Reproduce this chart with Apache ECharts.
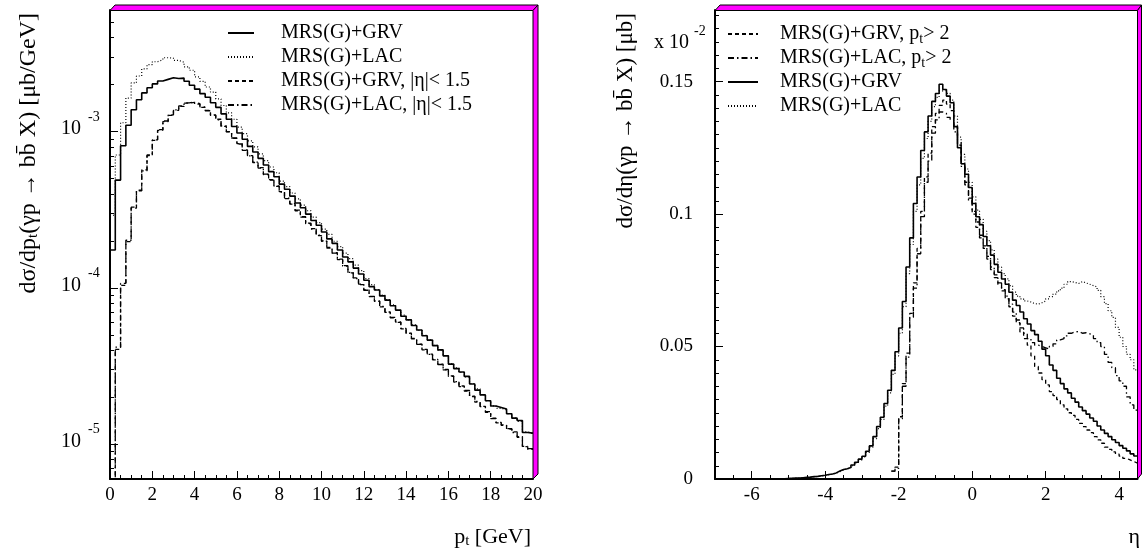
<!DOCTYPE html>
<html><head><meta charset="utf-8">
<script src="https://cdn.jsdelivr.net/npm/echarts@6/dist/echarts.min.js"></script>
<style>html,body{margin:0;padding:0;background:#fff}#c{width:1142px;height:554px}</style>
</head><body><div id="c"></div>
<script>
// ---------------- data : left panel (pt spectra, 0.25 GeV bins from 0) ----------------
const ptBinStart = 0;
const ptBinWidth = 0.25;
const ptGRV = [1.75e-4,4.90e-4,8.13e-4,1.10e-3,1.38e-3,1.60e-3,1.77e-3,1.91e-3,2.02e-3,2.11e-3,
  2.16e-3,2.21e-3,2.19e-3,2.20e-3,2.10e-3,1.98e-3,1.87e-3,1.75e-3,1.66e-3,1.53e-3,
  1.43e-3,1.30e-3,1.20e-3,1.08e-3,9.81e-4,8.95e-4,8.05e-4,7.41e-4,6.75e-4,6.12e-4,
  5.55e-4,5.15e-4,4.62e-4,4.28e-4,3.87e-4,3.50e-4,3.26e-4,2.97e-4,2.70e-4,2.52e-4,
  2.28e-4,2.06e-4,1.93e-4,1.75e-4,1.58e-4,1.47e-4,1.34e-4,1.23e-4,1.12e-4,1.02e-4,
  9.70e-5,8.90e-5,8.36e-5,7.70e-5,7.22e-5,6.60e-5,6.25e-5,5.75e-5,5.38e-5,4.95e-5,
  4.64e-5,4.28e-5,4.02e-5,3.68e-5,3.26e-5,3.05e-5,2.90e-5,2.72e-5,2.43e-5,2.22e-5,
  2.07e-5,1.90e-5,1.76e-5,1.72e-5,1.68e-5,1.57e-5,1.47e-5,1.42e-5,1.19e-5,1.18e-5];
const ptLAC = [2.92e-4,7.09e-4,1.14e-3,1.64e-3,2.05e-3,2.27e-3,2.52e-3,2.68e-3,2.80e-3,2.88e-3,
  2.97e-3,2.95e-3,2.86e-3,2.78e-3,2.60e-3,2.47e-3,2.24e-3,2.10e-3,1.93e-3,1.79e-3,
  1.62e-3,1.47e-3,1.32e-3,1.20e-3,1.07e-3,9.70e-4,8.72e-4,8.00e-4,7.20e-4,6.52e-4,
  5.94e-4,5.46e-4,4.83e-4,4.45e-4,4.05e-4,3.72e-4,3.39e-4,3.12e-4,2.84e-4,2.62e-4,
  2.38e-4,2.20e-4,1.99e-4,1.84e-4,1.67e-4,1.54e-4,1.40e-4,1.29e-4,1.15e-4,1.05e-4,
  9.75e-5,9.00e-5,8.40e-5,7.80e-5,7.20e-5,6.70e-5,6.25e-5,5.80e-5,5.35e-5,4.98e-5,
  4.65e-5,4.30e-5,4.00e-5,3.70e-5,3.28e-5,3.08e-5,2.88e-5,2.70e-5,2.45e-5,2.26e-5,
  2.08e-5,1.90e-5,1.76e-5,1.70e-5,1.66e-5,1.57e-5,1.47e-5,1.40e-5,1.20e-5,1.17e-5];
const ptGRVcut = [3.0e-6,4.05e-5,1.04e-4,1.98e-4,3.24e-4,4.18e-4,5.62e-4,7.02e-4,8.80e-4,1.02e-3,
  1.16e-3,1.27e-3,1.37e-3,1.45e-3,1.52e-3,1.54e-3,1.51e-3,1.43e-3,1.37e-3,1.27e-3,
  1.20e-3,1.08e-3,1.00e-3,9.05e-4,8.38e-4,7.58e-4,7.02e-4,6.35e-4,5.88e-4,5.32e-4,
  4.93e-4,4.46e-4,4.14e-4,3.73e-4,3.46e-4,3.12e-4,2.86e-4,2.58e-4,2.40e-4,2.16e-4,
  2.00e-4,1.80e-4,1.68e-4,1.52e-4,1.39e-4,1.25e-4,1.16e-4,1.05e-4,9.72e-5,8.80e-5,
  8.26e-5,7.58e-5,7.02e-5,6.45e-5,6.06e-5,5.48e-5,5.15e-5,4.73e-5,4.38e-5,4.02e-5,
  3.78e-5,3.47e-5,3.26e-5,2.99e-5,2.74e-5,2.50e-5,2.36e-5,2.19e-5,2.03e-5,1.86e-5,
  1.75e-5,1.60e-5,1.47e-5,1.37e-5,1.33e-5,1.25e-5,1.20e-5,1.11e-5,9.70e-6,9.30e-6];
const ptLACcut = [3.0e-6,4.19e-5,1.07e-4,2.02e-4,3.29e-4,4.22e-4,5.69e-4,7.09e-4,8.85e-4,1.03e-3,
  1.17e-3,1.28e-3,1.38e-3,1.46e-3,1.53e-3,1.55e-3,1.50e-3,1.44e-3,1.36e-3,1.28e-3,
  1.19e-3,1.09e-3,9.96e-4,9.11e-4,8.34e-4,7.63e-4,6.99e-4,6.39e-4,5.85e-4,5.35e-4,
  4.90e-4,4.49e-4,4.11e-4,3.76e-4,3.44e-4,3.15e-4,2.84e-4,2.60e-4,2.38e-4,2.18e-4,
  1.99e-4,1.82e-4,1.67e-4,1.53e-4,1.38e-4,1.26e-4,1.15e-4,1.06e-4,9.67e-5,8.85e-5,
  8.22e-5,7.63e-5,6.99e-5,6.49e-5,6.03e-5,5.51e-5,5.12e-5,4.76e-5,4.36e-5,4.05e-5,
  3.76e-5,3.49e-5,3.24e-5,3.01e-5,2.72e-5,2.52e-5,2.34e-5,2.21e-5,2.02e-5,1.88e-5,
  1.74e-5,1.62e-5,1.46e-5,1.38e-5,1.32e-5,1.26e-5,1.19e-5,1.12e-5,9.67e-6,9.38e-6];
const ptTickLabels = [0,2,4,6,8,10,12,14,16,18,20];
const ptLogTicks = [1e-5,1e-4,1e-3];

// ---------------- data : right panel (eta spectra, 0.1 bins, x 10^-2 ub) ----------------
const etaBinWidth = 0.1;
const etaGRVStart = -5.3;
const etaGRV = [0.0001,0.0001,0.0002,0.0003,0.0004,0.0004,0.0005,0.0006,0.0007,0.0009,
  0.0010,0.0012,0.0014,0.0017,0.0019,0.0023,0.0030,0.0036,0.0039,0.0043,
  0.0053,0.0063,0.0075,0.0086,0.0105,0.0125,0.0160,0.0198,0.0233,0.0285,
  0.0335,0.0410,0.0480,0.0570,0.0670,0.0800,0.0910,0.1040,0.1140,0.1240,
  0.1310,0.1370,0.1425,0.1455,0.1490,0.1470,0.1445,0.1420,0.1330,0.1250,
  0.1190,0.1150,0.1100,0.1040,0.0990,0.0960,0.0915,0.0880,0.0845,0.0810,
  0.0780,0.0755,0.0735,0.0705,0.0675,0.0655,0.0630,0.0605,0.0585,0.0560,
  0.0545,0.0520,0.0490,0.0465,0.0430,0.0410,0.0380,0.0360,0.0340,0.0325,
  0.0305,0.0290,0.0272,0.0258,0.0245,0.0230,0.0218,0.0200,0.0185,0.0172,
  0.0160,0.0148,0.0138,0.0126,0.0116,0.0106,0.0095,0.0087];
const etaLACStart = -5.3;
const etaLAC = [0.0001,0.0001,0.0002,0.0002,0.0003,0.0004,0.0005,0.0006,0.0007,0.0008,
  0.0010,0.0011,0.0013,0.0016,0.0018,0.0022,0.0028,0.0034,0.0038,0.0042,
  0.0050,0.0060,0.0072,0.0083,0.0100,0.0120,0.0152,0.0190,0.0225,0.0275,
  0.0325,0.0395,0.0465,0.0550,0.0650,0.0775,0.0885,0.1010,0.1110,0.1210,
  0.1285,0.1350,0.1405,0.1440,0.1465,0.1470,0.1455,0.1430,0.1370,0.1290,
  0.1225,0.1170,0.1120,0.1065,0.1015,0.0980,0.0935,0.0900,0.0865,0.0830,
  0.0800,0.0775,0.0755,0.0730,0.0705,0.0690,0.0680,0.0672,0.0668,0.0662,
  0.0660,0.0665,0.0672,0.0680,0.0688,0.0698,0.0710,0.0720,0.0735,0.0745,
  0.0742,0.0738,0.0745,0.0740,0.0735,0.0730,0.0725,0.0712,0.0688,0.0662,
  0.0635,0.0610,0.0572,0.0535,0.0500,0.0470,0.0450,0.0412];
const etaGRVptStart = -2.2;
const etaGRVpt = [0.0030,0.0045,0.0235,0.0360,0.0475,0.0625,0.0740,0.0870,0.1010,0.1140,
  0.1230,0.1330,0.1380,0.1410,0.1430,0.1415,0.1390,0.1330,0.1270,0.1190,
  0.1120,0.1060,0.1000,0.0950,0.0910,0.0870,0.0830,0.0790,0.0760,0.0735,
  0.0710,0.0680,0.0650,0.0615,0.0590,0.0555,0.0530,0.0505,0.0465,0.0425,
  0.0400,0.0375,0.0355,0.0330,0.0315,0.0300,0.0280,0.0265,0.0250,0.0240,
  0.0225,0.0210,0.0198,0.0185,0.0175,0.0160,0.0148,0.0135,0.0120,0.0112,
  0.0102,0.0094,0.0086,0.0078,0.0072,0.0066,0.0060];
const etaLACptStart = -2.2;
const etaLACpt = [0.0030,0.0040,0.0227,0.0350,0.0460,0.0610,0.0720,0.0850,0.0990,0.1120,
  0.1200,0.1305,0.1355,0.1385,0.1380,0.1365,0.1355,0.1310,0.1260,0.1180,
  0.1110,0.1050,0.1010,0.0970,0.0920,0.0880,0.0840,0.0800,0.0770,0.0740,
  0.0715,0.0690,0.0660,0.0630,0.0600,0.0570,0.0550,0.0530,0.0515,0.0505,
  0.0500,0.0495,0.0490,0.0500,0.0510,0.0525,0.0530,0.0540,0.0550,0.0555,
  0.0557,0.0550,0.0552,0.0548,0.0543,0.0530,0.0515,0.0500,0.0470,0.0440,
  0.0420,0.0390,0.0370,0.0350,0.0310,0.0280,0.0260];
const etaTickLabels = [-6,-4,-2,0,2,4];
const etaYTickLabels = [0,0.05,0.1,0.15];

const namesLeft = ['MRS(G)+GRV','MRS(G)+LAC','MRS(G)+GRV, |η|< 1.5','MRS(G)+LAC, |η|< 1.5'];
const namesRight = ['MRS(G)+GRV, pt> 2','MRS(G)+LAC, pt> 2','MRS(G)+GRV','MRS(G)+LAC'];

// ---------------- helpers ----------------
const FONT = '"Liberation Serif", "Times New Roman", serif';
function hist(start, w, vals) {
  const pts = vals.map((v, i) => [+(start + i * w).toFixed(4), v]);
  pts.push([+(start + vals.length * w).toFixed(4), vals[vals.length - 1]]);
  return pts;
}
const LS = {
  solid:   {type: 'solid', width: 1.6},
  dotted:  {type: [1, 2], width: 1.2},
  dashed:  {type: [4, 3], width: 1.3},
  dashdot: {type: [6, 3, 1.5, 3], width: 1.3}
};
function mk(name, xi, yi, data, ls, z) {
  return {type: 'line', name, xAxisIndex: xi, yAxisIndex: yi, data, step: 'end',
    symbol: 'none', showSymbol: false, silent: true, z, clip: true, animation: false,
    lineStyle: Object.assign({color: '#000'}, ls), itemStyle: {color: 'rgba(0,0,0,0)'},
    emphasis: {disabled: true}};
}
function range(a, b, s) { const r = []; for (let v = a; v <= b + 1e-9; v += s) r.push(+v.toFixed(4)); return r; }
const logMinor = [];
[1e-6, 1e-5, 1e-4, 1e-3].forEach(d => { for (let k = 2; k <= 9; k++) { const v = +(k * d).toPrecision(3); if (v >= 6e-6 && v <= 6e-3) logMinor.push(v); } });
const etaMinor = range(-6.5, 4.5, 0.5).filter(v => !etaTickLabels.includes(v));
const etaYMinor = range(0.005, 0.175, 0.005).filter(v => !etaYTickLabels.some(t => Math.abs(t - v) < 1e-6));

const axisLine = {show: true, onZero: false, lineStyle: {color: '#000', width: 2}};
const noLine = {show: false, onZero: false};
const tickStyle = {color: '#000', width: 1};
const labelBase = {color: '#000', fontFamily: FONT, fontSize: 19};

const option = {
  animation: false,
  backgroundColor: '#fff',
  grid: [
    {left: 110, top: 10, width: 423, height: 469, outerBoundsMode: 'none', containLabel: false},
    {left: 715, top: 10, width: 422.5, height: 469, outerBoundsMode: 'none', containLabel: false}
  ],
  xAxis: [
    {gridIndex: 0, type: 'value', min: 0, max: 20, interval: 2, position: 'bottom', axisLine,
      axisTick: {inside: true, length: 8, lineStyle: tickStyle},
      minorTick: {show: true, splitNumber: 4, length: 4, lineStyle: tickStyle},
      splitLine: {show: false}, minorSplitLine: {show: false},
      axisLabel: Object.assign({margin: 7, customValues: ptTickLabels}, labelBase)},
    {gridIndex: 1, type: 'value', min: -7, max: 4.5, position: 'bottom', axisLine,
      axisTick: {inside: true, length: 8, lineStyle: tickStyle, customValues: etaTickLabels},
      splitLine: {show: false},
      axisLabel: Object.assign({margin: 7, customValues: etaTickLabels}, labelBase)},
    {gridIndex: 1, type: 'value', min: -7, max: 4.5, position: 'bottom', axisLine: noLine,
      axisTick: {inside: true, length: 4, lineStyle: tickStyle, customValues: etaMinor},
      splitLine: {show: false}, axisLabel: {show: false}}
  ],
  yAxis: [
    {gridIndex: 0, type: 'log', logBase: 10, min: 6e-6, max: 6e-3, position: 'left', axisLine,
      axisTick: {inside: true, length: 8, lineStyle: tickStyle, customValues: ptLogTicks},
      splitLine: {show: false}, minorSplitLine: {show: false},
      axisLabel: {customValues: ptLogTicks, margin: 10, color: '#000', fontFamily: FONT,
        padding: [0, 0, 14, 0],
        formatter: v => '{b|10}{s|  ' + Math.round(Math.log10(v)) + '}{h| }',
        rich: {b: {fontFamily: FONT, fontSize: 20, lineHeight: 20, verticalAlign: 'bottom', color: '#000'},
               s: {fontFamily: FONT, fontSize: 14, lineHeight: 14, verticalAlign: 'top', color: '#000'},
               h: {fontSize: 1, lineHeight: 29}}}},
    {gridIndex: 0, type: 'log', logBase: 10, min: 6e-6, max: 6e-3, position: 'left', axisLine: noLine,
      axisTick: {inside: true, length: 4, lineStyle: tickStyle, customValues: logMinor},
      splitLine: {show: false}, axisLabel: {show: false}},
    {gridIndex: 1, type: 'value', min: 0, max: 0.177, position: 'left', axisLine,
      axisTick: {inside: true, length: 8, lineStyle: tickStyle, customValues: etaYTickLabels},
      splitLine: {show: false},
      axisLabel: Object.assign({margin: 22, customValues: etaYTickLabels}, labelBase)},
    {gridIndex: 1, type: 'value', min: 0, max: 0.177, position: 'left', axisLine: noLine,
      axisTick: {inside: true, length: 4, lineStyle: tickStyle, customValues: etaYMinor},
      splitLine: {show: false}, axisLabel: {show: false}}
  ],
  legend: [
    {left: 227, top: 21, orient: 'vertical', itemWidth: 26, itemHeight: 12, itemGap: 0, padding: 0,
      selectedMode: false, data: namesLeft,
      textStyle: {fontFamily: FONT, fontSize: 20, color: '#000', lineHeight: 24, padding: [0, 0, 0, 22]}},
    {left: 727, top: 22, orient: 'vertical', itemWidth: 30, itemHeight: 12, itemGap: 0, padding: 0,
      selectedMode: false, data: namesRight,
      formatter: n => n.replace('pt>', 'p{s|t}>'),
      textStyle: {fontFamily: FONT, fontSize: 20, color: '#000', lineHeight: 24, padding: [0, 0, 0, 17],
        rich: {s: {fontFamily: FONT, fontSize: 14, lineHeight: 14, verticalAlign: 'bottom', color: '#000'}}}}
  ],
  series: [
    mk(namesLeft[2], 0, 0, hist(ptBinStart, ptBinWidth, ptGRVcut), LS.dashed, 2),
    mk(namesLeft[3], 0, 0, hist(ptBinStart, ptBinWidth, ptLACcut), LS.dashdot, 3),
    mk(namesLeft[1], 0, 0, hist(ptBinStart, ptBinWidth, ptLAC), LS.dotted, 4),
    mk(namesLeft[0], 0, 0, hist(ptBinStart, ptBinWidth, ptGRV), LS.solid, 5),
    mk(namesRight[0], 1, 2, hist(etaGRVptStart, etaBinWidth, etaGRVpt), LS.dashed, 2),
    mk(namesRight[1], 1, 2, hist(etaLACptStart, etaBinWidth, etaLACpt), LS.dashdot, 3),
    mk(namesRight[3], 1, 2, hist(etaLACStart, etaBinWidth, etaLAC), LS.dotted, 4),
    mk(namesRight[2], 1, 2, hist(etaGRVStart, etaBinWidth, etaGRV), LS.solid, 5)
  ],
  graphic: [
    {type: 'polygon', z: 100, shape: {points: [[110, 10.5], [115, 5], [538, 5], [533, 10.5]]},
      style: {fill: '#ff00ff', stroke: '#000', lineWidth: 1}},
    {type: 'polygon', z: 100, shape: {points: [[533, 10.5], [538, 5], [538, 474], [533, 479]]},
      style: {fill: '#ff00ff', stroke: '#000', lineWidth: 1}},
    {type: 'polygon', z: 100, shape: {points: [[715, 10.5], [720, 5], [1141.5, 5], [1137.5, 10.5]]},
      style: {fill: '#ff00ff', stroke: '#000', lineWidth: 1}},
    {type: 'polygon', z: 100, shape: {points: [[1137.5, 10.5], [1141.5, 5], [1141.5, 474], [1137.5, 479]]},
      style: {fill: '#ff00ff', stroke: '#000', lineWidth: 1}},
    {type: 'text', x: 29, y: 13, rotation: Math.PI / 2, z: 50,
      style: {text: 'dσ/dp{s|t}(γp → bb\u0304 X) [μb/GeV]', fontFamily: FONT, fontSize: 24, fill: '#000',
        align: 'right', verticalAlign: 'middle',
        rich: {s: {fontFamily: FONT, fontSize: 15, verticalAlign: 'bottom', lineHeight: 14, fill: '#000'}}}},
    {type: 'text', x: 626, y: 13, rotation: Math.PI / 2, z: 50,
      style: {text: 'dσ/dη(γp → bb\u0304 X) [μb]', fontFamily: FONT, fontSize: 23, fill: '#000',
        align: 'right', verticalAlign: 'middle'}},
    {type: 'text', x: 531, y: 537, z: 50,
      style: {text: 'p{s|t} [GeV]', fontFamily: FONT, fontSize: 22, fill: '#000', lineHeight: 24,
        align: 'right', verticalAlign: 'middle',
        rich: {s: {fontFamily: FONT, fontSize: 15, verticalAlign: 'bottom', lineHeight: 14, fill: '#000'}}}},
    {type: 'text', x: 1140, y: 537, z: 50,
      style: {text: 'η', fontFamily: FONT, fontSize: 22, fill: '#000', align: 'right', verticalAlign: 'middle'}},
    {type: 'text', x: 689, y: 43, z: 50,
      style: {text: 'x 10', fontFamily: FONT, fontSize: 20, fill: '#000', align: 'right', verticalAlign: 'middle'}},
    {type: 'text', x: 694, y: 31, z: 50,
      style: {text: '-2', fontFamily: FONT, fontSize: 14, fill: '#000', align: 'left', verticalAlign: 'middle'}}
  ]
};
const chart = echarts.init(document.getElementById('c'), null, {renderer: 'canvas'});
chart.setOption(option);
</script>
</body></html>
